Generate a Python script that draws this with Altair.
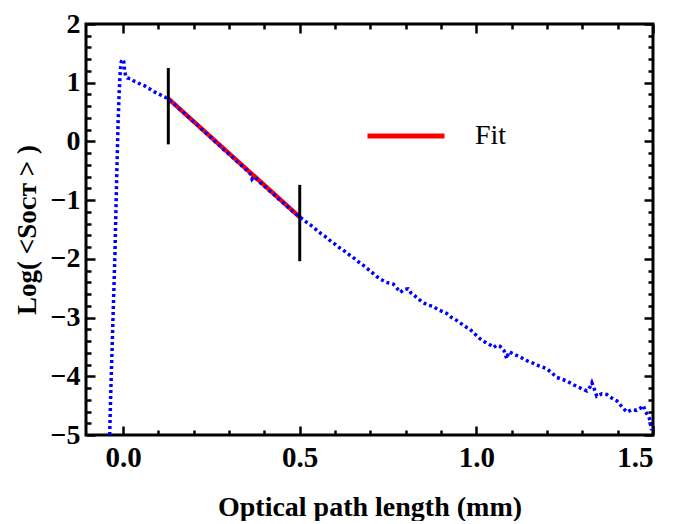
import altair as alt
import pandas as pd

# ---------------- data ----------------
curve_x = [-0.038, -0.035, -0.031, -0.027, -0.023, -0.020, -0.017, -0.014, -0.011, -0.008,
           -0.005, -0.001, 0.002, 0.004, 0.007, 0.012, 0.02, 0.03, 0.04, 0.05,
           0.06, 0.07, 0.08, 0.09, 0.10, 0.11, 0.12, 0.13, 0.14, 0.15,
           0.16, 0.17, 0.18, 0.19, 0.20, 0.21, 0.22, 0.23, 0.24, 0.25,
           0.26, 0.27, 0.28, 0.29, 0.30, 0.31, 0.32, 0.33, 0.34, 0.35,
           0.36, 0.365, 0.37, 0.38, 0.39, 0.40, 0.41, 0.42, 0.43, 0.44,
           0.45, 0.46, 0.47, 0.48, 0.49, 0.50, 0.51, 0.52, 0.53, 0.54,
           0.55, 0.56, 0.57, 0.58, 0.59, 0.60, 0.61, 0.62, 0.63, 0.64,
           0.65, 0.66, 0.67, 0.68, 0.69, 0.70, 0.71, 0.72, 0.73, 0.745,
           0.765, 0.775, 0.785, 0.795, 0.807, 0.815, 0.822, 0.835, 0.850, 0.865,
           0.878, 0.89, 0.905, 0.916, 0.93, 0.942, 0.954, 0.968, 0.982, 0.996,
           1.010, 1.025, 1.040, 1.048, 1.058, 1.067, 1.078, 1.086, 1.092, 1.105,
           1.12, 1.133, 1.145, 1.158, 1.171, 1.185, 1.199, 1.213, 1.228, 1.242,
           1.256, 1.27, 1.284, 1.298, 1.313, 1.322, 1.327, 1.334, 1.341, 1.355,
           1.369, 1.383, 1.398, 1.412, 1.426, 1.440, 1.454, 1.465, 1.473, 1.478,
           1.483, 1.490, 1.493, 1.496]
curve_y = [-5.0, -4.3, -3.5, -2.7, -1.9, -1.1, -0.35, 0.35, 0.85, 1.2,
           1.36, 1.40, 1.36, 1.22, 1.12, 1.08, 1.07, 1.03, 1.01, 0.97,
           0.95, 0.91, 0.88, 0.84, 0.81, 0.78, 0.75, 0.71, 0.66, 0.61,
           0.55, 0.50, 0.44, 0.39, 0.33, 0.28, 0.22, 0.17, 0.11, 0.06,
           0.00, -0.05, -0.12, -0.16, -0.22, -0.27, -0.33, -0.38, -0.44, -0.49,
           -0.55, -0.64, -0.60, -0.65, -0.71, -0.76, -0.82, -0.87, -0.92, -0.98,
           -1.03, -1.08, -1.14, -1.19, -1.24, -1.29, -1.33, -1.38, -1.42, -1.47,
           -1.52, -1.57, -1.61, -1.66, -1.71, -1.75, -1.80, -1.84, -1.88, -1.93,
           -1.97, -2.02, -2.07, -2.11, -2.16, -2.21, -2.26, -2.31, -2.35, -2.40,
           -2.43, -2.50, -2.57, -2.52, -2.51, -2.58, -2.61, -2.68, -2.75, -2.79,
           -2.81, -2.86, -2.90, -2.93, -3.00, -3.04, -3.09, -3.15, -3.20, -3.28,
           -3.36, -3.42, -3.47, -3.51, -3.47, -3.49, -3.56, -3.70, -3.58, -3.62,
           -3.66, -3.70, -3.74, -3.77, -3.81, -3.84, -3.87, -3.94, -4.02, -4.05,
           -4.08, -4.13, -4.17, -4.21, -4.25, -4.18, -4.11, -4.22, -4.34, -4.30,
           -4.31, -4.37, -4.42, -4.52, -4.61, -4.57, -4.58, -4.54, -4.50, -4.60,
           -4.64, -4.72, -4.80, -4.92]

fit_x = [0.128, 0.5]
fit_y = [0.73, -1.29]
fit_label = ["Fit", "Fit"]

bar_x = [0.128, 0.5]
bar_top = [1.25, -0.74]
bar_bottom = [-0.05, -2.04]

x_ticks = [0.0, 0.1, 0.2, 0.3, 0.4, 0.5, 0.6, 0.7, 0.8, 0.9, 1.0, 1.1, 1.2, 1.3, 1.4, 1.5]
y_ticks = [-5.0, -4.8, -4.6, -4.4, -4.2, -4.0, -3.8, -3.6, -3.4, -3.2, -3.0, -2.8, -2.6,
           -2.4, -2.2, -2.0, -1.8, -1.6, -1.4, -1.2, -1.0, -0.8, -0.6, -0.4, -0.2, 0.0,
           0.2, 0.4, 0.6, 0.8, 1.0, 1.2, 1.4, 1.6, 1.8, 2.0]

x_title = "Optical path length (mm)"
y_title = "Log( <Sᴏᴄᴛ > )"

# ---------------- chart ----------------
W, H = 567, 411
FONT = "Liberation Serif"
FS = 29

curve = pd.DataFrame({"x": curve_x, "y": curve_y, "i": list(range(len(curve_x)))})
fit = pd.DataFrame({"x": fit_x, "y": fit_y, "series": fit_label})
bars = pd.DataFrame({"x": bar_x, "y": bar_top, "y2": bar_bottom})

xscale = alt.Scale(domain=[-0.105, 1.5], nice=False, zero=False)
yscale = alt.Scale(domain=[-5, 2], nice=False, zero=False)

major_x = "abs(datum.value*2 - round(datum.value*2)) < 0.000001"
major_y = "abs(datum.value - round(datum.value)) < 0.000001"

def tick_axis(values, major, orient, offset):
    return alt.Axis(
        orient=orient, offset=offset, values=values, labels=False, domain=False,
        grid=False, title=None, tickColor="black", tickWidth=2.5,
        tickSize={"condition": {"test": major, "value": 9}, "value": 5},
    )

main_x = alt.Axis(
    orient="bottom", values=x_ticks, ticks=False, domain=False, grid=False,
    labelExpr=f"({major_x}) ? format(datum.value, '.1f') : ''",
    labelOverlap=False, labelFont=FONT, labelFontSize=FS, labelFontWeight="bold",
    labelColor="black", labelPadding=8,
    title=x_title, titleFont=FONT, titleFontSize=28, titleFontWeight="bold",
    titleColor="black", titlePadding=21,
)
main_y = alt.Axis(
    orient="left", values=y_ticks, ticks=False, domain=False, grid=False,
    labelExpr=f"({major_y}) ? format(round(datum.value), 'd') : ''",
    labelOverlap=False, labelFont=FONT, labelFontSize=28, labelFontWeight="bold",
    labelColor="black", labelPadding=6,
    title=y_title, titleFont=FONT, titleFontSize=27, titleFontWeight="bold",
    titleColor="black", titlePadding=9,
)

fit_layer = alt.Chart(fit).mark_line(strokeWidth=4.5).encode(
    x=alt.X("x:Q", scale=xscale, axis=main_x),
    y=alt.Y("y:Q", scale=yscale, axis=main_y),
    color=alt.Color(
        "series:N",
        scale=alt.Scale(domain=["Fit"], range=["#ff0000"]),
        legend=alt.Legend(
            orient="none", legendX=279, legendY=71, title=None, padding=0,
            symbolType="stroke", symbolSize=5929, symbolStrokeWidth=5,
            labelFont=FONT, labelFontSize=28, labelColor="black", labelOffset=28,
        ),
    ),
)

bar_layer = alt.Chart(bars).mark_rule(color="black", strokeWidth=3).encode(
    x=alt.X("x:Q", scale=xscale, axis=tick_axis(x_ticks, major_x, "top", -H)),
    y=alt.Y("y:Q", scale=yscale, axis=tick_axis(y_ticks, major_y, "right", -W)),
    y2="y2:Q",
)

curve_layer = alt.Chart(curve).mark_line(
    color="#0000ff", strokeWidth=3.5, strokeDash=[3, 3]
).encode(
    x=alt.X("x:Q", scale=xscale, axis=tick_axis(x_ticks, major_x, "bottom", -H)),
    y=alt.Y("y:Q", scale=yscale, axis=tick_axis(y_ticks, major_y, "left", -W)),
    order="i:Q",
)

chart = (
    alt.layer(fit_layer, bar_layer, curve_layer)
    .resolve_axis(x="independent", y="independent")
    .properties(
        width=W, height=H,
        autosize=alt.AutoSizeParams(type="none"),
        padding={"left": 78, "top": 16, "right": 12, "bottom": 86},
        background="white",
    )
    .configure_view(stroke="black", strokeWidth=3)
)

chart.save("out.html", embed_options={"renderer": "svg", "actions": False})
